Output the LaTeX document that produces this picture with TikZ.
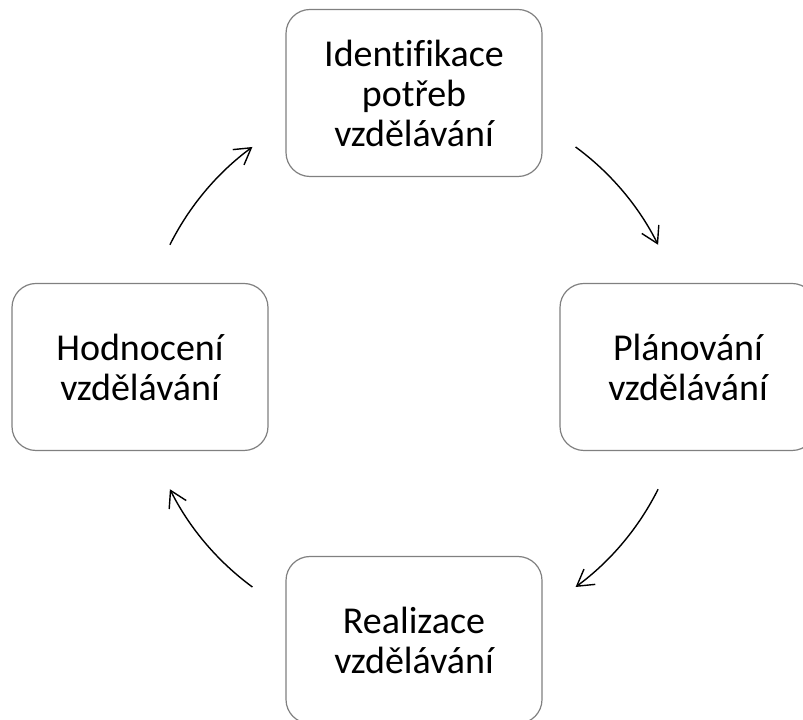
\documentclass[tikz,border=0pt]{standalone}
\usepackage{fontspec}
\setmainfont{Carlito}[Ligatures=NoCommon]
\usetikzlibrary{arrows.meta}
\definecolor{boxgray}{RGB}{128,128,128}
\tikzset{
  stagebox/.style={draw=boxgray, line width=1.2pt, rounded corners=24pt,
    minimum width=256pt, minimum height=167pt, align=center, inner sep=0pt,
    font=\fontsize{38}{40}\selectfont},
  cyclearrow/.style={draw=black, line width=1.4pt,
    -{Straight Barb[length=16pt,width=19pt,line width=1.4pt]}}
}
\begin{document}
\begin{tikzpicture}[x=1pt,y=1pt]
\useasboundingbox (0,0) rectangle (803,720);
\clip (0,0) rectangle (803,720);
\coordinate (c) at (414,353);
\node[stagebox] (top) at (414,627) {Identifikace\\potřeb\\vzdělávání};
\node[stagebox] (right) at (688,353) {Plánování\\vzdělávání};
\node[stagebox] (bottom) at (414,80) {Realizace\\vzdělávání};
\node[stagebox] (left) at (140,353) {Hodnocení\\vzdělávání};
\draw[cyclearrow] (c) ++(53.7:273) arc[start angle=53.7, end angle=26.6, radius=273];
\draw[cyclearrow] (c) ++(-26.6:273) arc[start angle=-26.6, end angle=-53.7, radius=273];
\draw[cyclearrow] (c) ++(233.7:273) arc[start angle=233.7, end angle=206.6, radius=273];
\draw[cyclearrow] (c) ++(153.4:273) arc[start angle=153.4, end angle=126.3, radius=273];
\end{tikzpicture}
\end{document}
